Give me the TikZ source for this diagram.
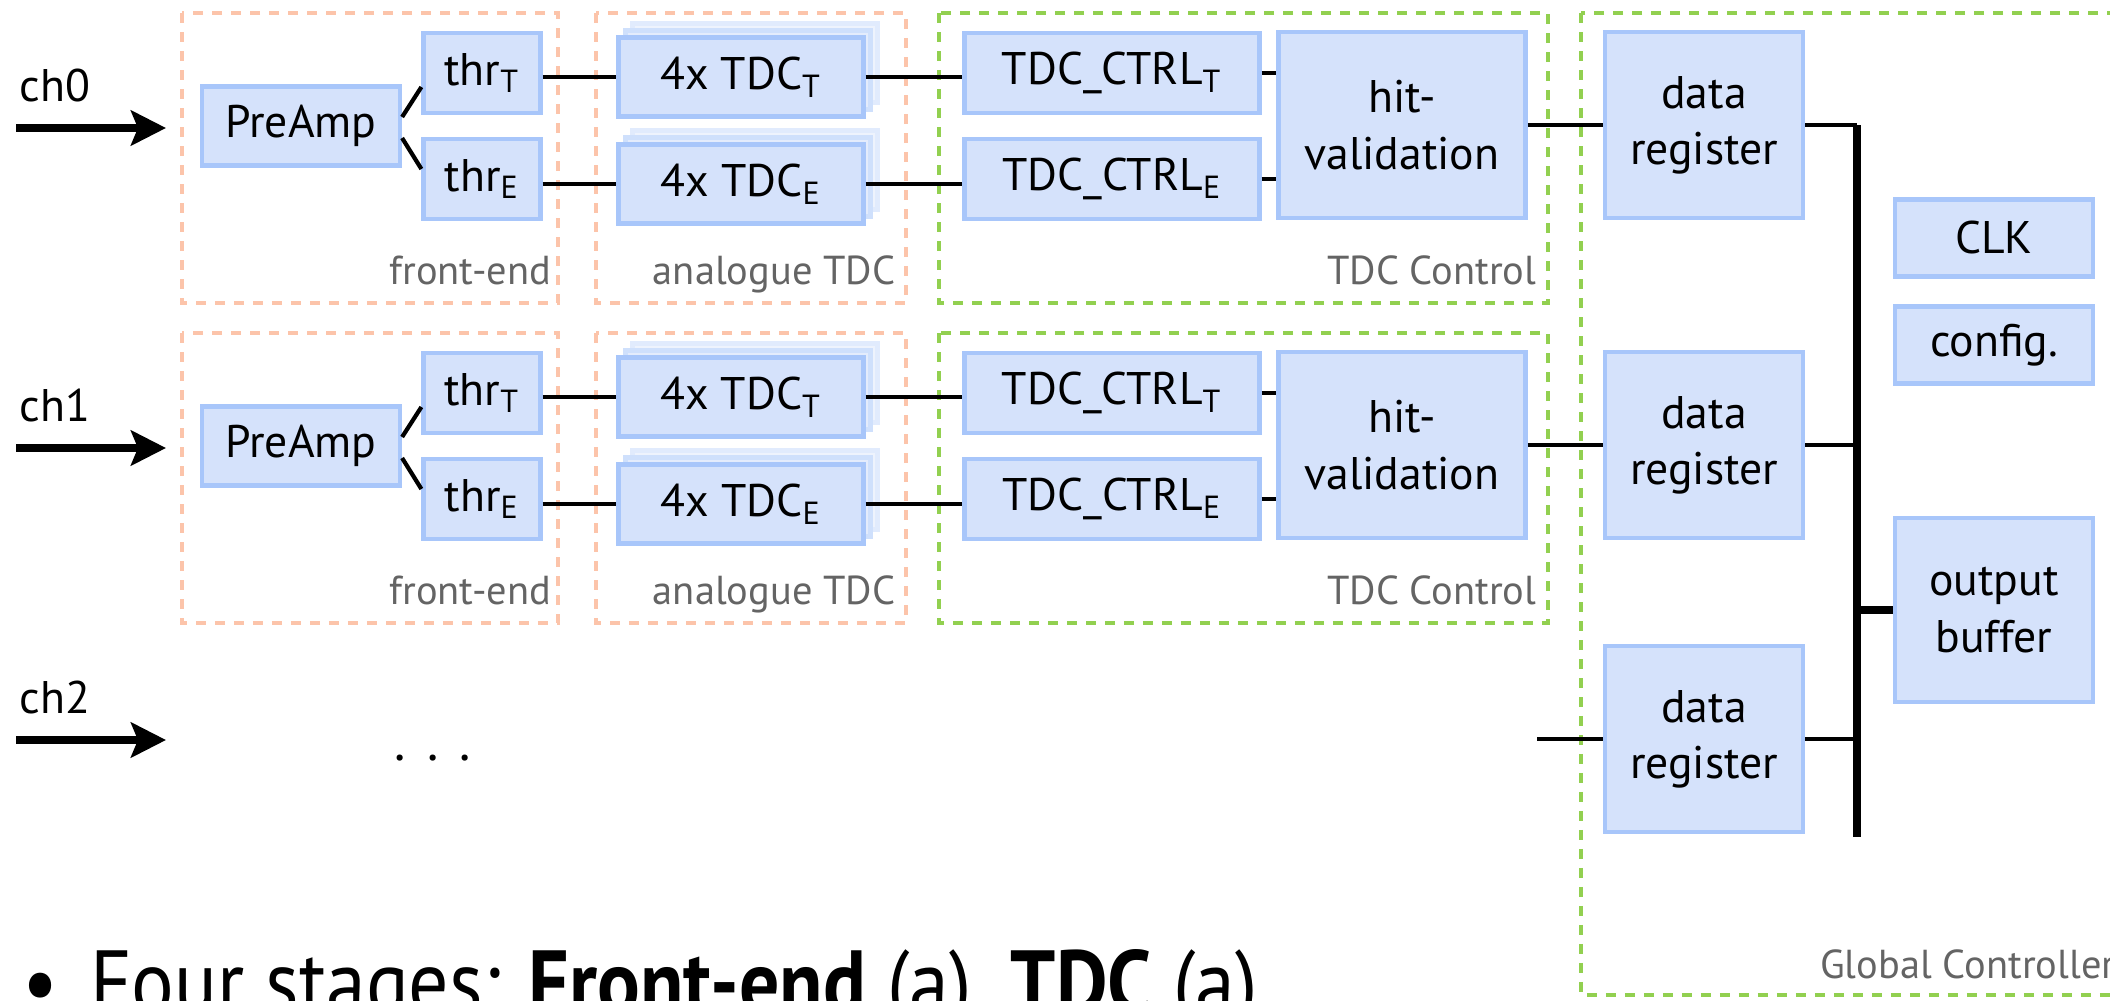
\documentclass[tikz,border=0pt]{standalone}
\usepackage{fontspec}
\setmainfont{PT Sans}
\usetikzlibrary{arrows.meta}

\definecolor{blkfill}{RGB}{213,226,251}
\definecolor{blkline}{RGB}{168,198,250}
\definecolor{anaframe}{RGB}{252,196,170}
\definecolor{digframe}{RGB}{146,208,80}
\definecolor{labgrey}{RGB}{100,100,100}

\newcommand{\lowsub}[1]{\textsubscript{#1}}

\tikzset{
  blk/.style={draw=blkline, fill=blkfill, line width=1.2pt, inner sep=0pt,
    align=center, font=\fontsize{13}{16}\selectfont},
  ghostA/.style={blk, draw=blkline!55!white, fill=blkfill!65!white},
  ghostB/.style={blk, draw=blkline!35!white, fill=blkfill!40!white},
  frame/.style={line width=1.1pt, dash pattern=on 1mm off 0.9mm},
  lab/.style={text=labgrey, font=\fontsize{11.5}{13}\selectfont, inner sep=0pt},
  chlab/.style={font=\fontsize{13}{16}\selectfont, inner sep=0pt},
  wire/.style={line width=1.2pt},
  sig/.style={line width=2pt, -{Stealth[length=3.5mm, width=3.5mm, inset=0.7mm]}}
}

\begin{document}
\begin{tikzpicture}[x=0.1mm, y=-0.1mm]
  \useasboundingbox (0,0) rectangle (2110,1000);
  \clip (0,0) rectangle (2110,1000);

  % global controller frame
  \draw[frame, draw=digframe] (1581,13) rectangle (2140,995);
  \node[lab, anchor=base east] (gclab) at (2116,978) {Global Controller};

  % channel rows
  \foreach \row/\dy in {0/0, 1/320} {
    \begin{scope}[shift={(0,\dy)}]
      \draw[frame, draw=anaframe] (182,13) rectangle (558,303);
      \draw[frame, draw=anaframe] (596,13) rectangle (906,303);
      \draw[frame, draw=digframe] (939,13) rectangle (1548,303);
      \node[lab, anchor=base east] (fe\row) at (552,284) {front-end};
      \node[lab, anchor=base east] (at\row) at (896,284) {analogue TDC};
      \node[lab, anchor=base east] (tc\row) at (1537,284) {TDC Control};

      \node[chlab, anchor=base west] (ch\row) at (19,101) {ch\row};
      \coordinate (in\row) at (16,128);
      \coordinate (tip\row) at (166,128);
      \draw[sig] (in\row) -- (tip\row);

      \node[blk, minimum width=19.8mm, minimum height=7.9mm] (pre\row) at (301,126) {PreAmp};
      \node[blk, minimum width=11.7mm, minimum height=8mm] (thrT\row) at (482,73) {thr\lowsub{T}};
      \node[blk, minimum width=11.7mm, minimum height=8mm] (thrE\row) at (482,179) {thr\lowsub{E}};

      % stacked TDCs
      \node[ghostB, minimum width=24.5mm, minimum height=7.9mm] (tdcTc\row) at (755,63) {};
      \node[ghostA, minimum width=24.5mm, minimum height=7.9mm] (tdcTb\row) at (748,70) {};
      \node[blk, minimum width=24.5mm, minimum height=7.9mm] (tdcT\row) at (741,77) {4x TDC\lowsub{T}};
      \node[ghostB, minimum width=24.5mm, minimum height=7.9mm] (tdcEc\row) at (755,170) {};
      \node[ghostA, minimum width=24.5mm, minimum height=7.9mm] (tdcEb\row) at (748,177) {};
      \node[blk, minimum width=24.5mm, minimum height=7.9mm] (tdcE\row) at (741,184) {4x TDC\lowsub{E}};

      \node[blk, minimum width=29.5mm, minimum height=8mm] (ctrlT\row) at (1112,73) {TDC\_CTRL\lowsub{T}};
      \node[blk, minimum width=29.5mm, minimum height=8mm] (ctrlE\row) at (1112,179) {TDC\_CTRL\lowsub{E}};
      \node[blk, minimum width=24.7mm, minimum height=18.6mm] (hit\row) at (1402,125) {hit-\\validation};
      \node[blk, minimum width=19.8mm, minimum height=18.6mm] (dreg\row) at (1704,125) {data\\register};

      \draw[wire] ([yshift=0.9mm]pre\row.east) -- ([yshift=-1.4mm]thrT\row.west);
      \draw[wire] ([yshift=-1.2mm]pre\row.east) -- ([yshift=1mm]thrE\row.west);
      \draw[wire] (thrT\row.east |- tdcT\row.west) -- (tdcT\row.west);
      \draw[wire] (thrE\row.east |- tdcE\row.west) -- (tdcE\row.west);
      \draw[wire] (tdcT\row.east) -- (tdcT\row.east -| ctrlT\row.west);
      \draw[wire] (tdcE\row.east) -- (tdcE\row.east -| ctrlE\row.west);
      \draw[wire] (ctrlT\row.east) -- (ctrlT\row.east -| hit\row.west);
      \draw[wire] (ctrlE\row.east) -- (ctrlE\row.east -| hit\row.west);
      \draw[wire] (hit\row.east) -- (dreg\row.west);
    \end{scope}
  }

  % third channel
  \node[chlab, anchor=base west] (ch2) at (19,713) {ch2};
  \coordinate (in2) at (16,740);
  \coordinate (tip2) at (166,740);
  \draw[sig] (in2) -- (tip2);
  \node[chlab, anchor=base, font=\fontsize{15}{16}\selectfont] (dots) at (433,760) {.\hspace{0.4em}.\hspace{0.4em}.};
  \node[blk, minimum width=19.8mm, minimum height=18.6mm] (dreg2) at (1704,739) {data\\register};
  \coordinate (feed2) at (1537,739);
  \draw[wire] (feed2) -- (dreg2.west);

  % shared blocks
  \node[blk, minimum width=19.8mm, minimum height=7.7mm] (clk) at (1994,238) {CLK};
  \node[blk, minimum width=19.8mm, minimum height=7.7mm] (cfg) at (1994,345) {config.};
  \node[blk, minimum width=19.8mm, minimum height=18.4mm] (obuf) at (1994,610) {output\\buffer};

  % bus
  \coordinate (bustop) at (1857,125);
  \coordinate (busbot) at (1857,837);
  \draw[line width=2pt] (bustop) -- (busbot);
  \foreach \r in {0,1,2}
    \draw[wire] (dreg\r.east) -- (dreg\r.east -| bustop);
  \draw[line width=2.4pt] (obuf.west -| bustop) -- (obuf.west);

  % slide text below
  \node[anchor=base west, inner sep=0pt, xscale=0.89, font=\fontsize{25.5}{30}\selectfont] (bullet) at (22,1013)
    {\textbullet\hspace{0.4em}Four stages: \textbf{Front-end} (a), \textbf{TDC} (a),};
\end{tikzpicture}
\end{document}
